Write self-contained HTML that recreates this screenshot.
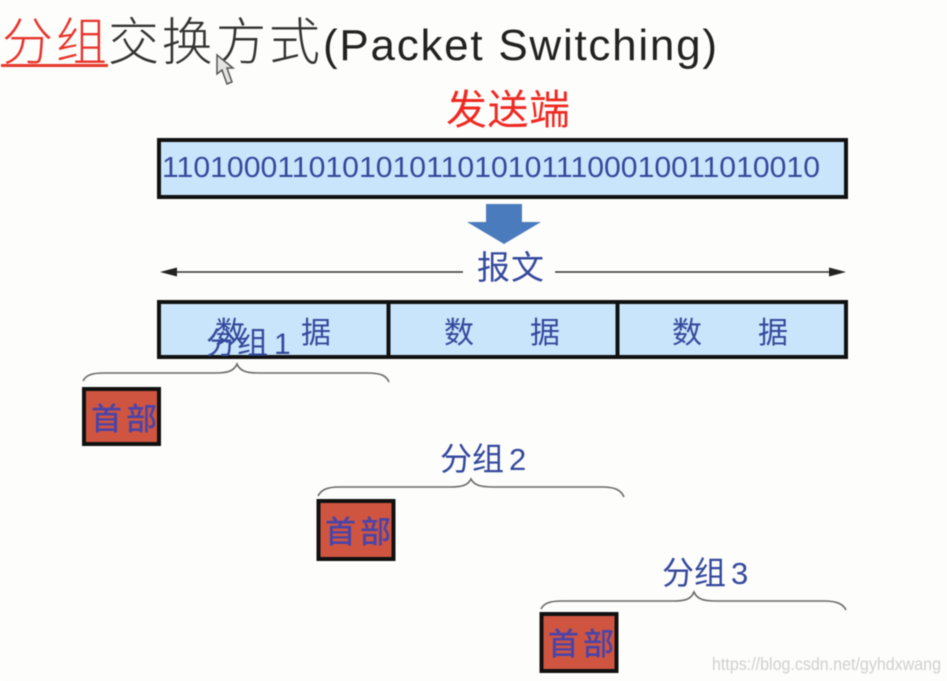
<!DOCTYPE html>
<html><head><meta charset="utf-8">
<style>
html,body{margin:0;padding:0;background:#fdfdfc;}
svg{display:block;filter:blur(.45px);}
text{font-family:"Liberation Sans","Noto Sans CJK SC",sans-serif;}
</style></head><body>
<svg width="947" height="681" viewBox="0 0 947 681" xmlns="http://www.w3.org/2000/svg">
<rect width="947" height="681" fill="#fdfdfc"/>
<text x="2" y="60" font-size="51" font-weight="300" fill="#e8332a" style="font-family:'Noto Sans CJK SC',sans-serif" textLength="105">分组</text>
<rect x="1" y="64" width="107" height="3" fill="#e53a2c"/>
<text x="108" y="60" font-size="51" fill="#333" style="font-family:'Noto Sans CJK SC',sans-serif" font-weight="300" textLength="212">交换方式</text>
<text x="323" y="60" font-size="44" fill="#222" textLength="394">(Packet Switching)</text>
<path d="M217 55 L217 74 L222 70 L227 84 L232 82 L227 68 L233 68 Z" fill="#e4e4e4" stroke="#555" stroke-width="1.5"/>
<text x="446" y="124" font-size="41" fill="#ee2a22" textLength="124">发送端</text>
<rect x="159" y="140" width="687" height="57" fill="#c9e5fb" stroke="#111" stroke-width="4"/>
<text x="162" y="177" font-size="28.5" fill="#34499c" textLength="658" lengthAdjust="spacingAndGlyphs">1101000110101010110101011100010011010010</text>
<path d="M486 204 H522 V222 H541 L504 244 L467 222 H486 Z" fill="#4a7bbd"/>
<line x1="170" y1="272" x2="463" y2="272" stroke="#333" stroke-width="1.5"/>
<path d="M160 272 L177 267.5 V276.5 Z" fill="#222"/>
<line x1="555" y1="272" x2="835" y2="272" stroke="#333" stroke-width="1.5"/>
<path d="M846 272 L829 267.5 V276.5 Z" fill="#222"/>
<text x="477" y="279" font-size="33" fill="#34499c" textLength="67">报文</text>
<rect x="159" y="302" width="687" height="55" fill="#c9e5fb" stroke="#111" stroke-width="4"/>
<line x1="388.500" y1="301" x2="388.500" y2="358" stroke="#111" stroke-width="4"/>
<line x1="617.500" y1="301" x2="617.500" y2="358" stroke="#111" stroke-width="4"/>
<g font-size="30" fill="#34499c">
<text x="215" y="343">数</text><text x="301" y="343">据</text>
<text x="444" y="343">数</text><text x="530" y="343">据</text>
<text x="672" y="343">数</text><text x="758" y="343">据</text>
</g>
<text x="206" y="354" font-size="31" fill="#34499c" textLength="62">分组</text>
<text x="274" y="354" font-size="30" fill="#34499c">1</text>
<text x="440" y="470" font-size="32" fill="#34499c" textLength="64">分组</text>
<text x="509" y="470" font-size="31" fill="#34499c">2</text>
<text x="662" y="584" font-size="32" fill="#34499c" textLength="64">分组</text>
<text x="731" y="584" font-size="31" fill="#34499c">3</text>
<g fill="none" stroke="#6a6a66" stroke-width="1.6">
<path d="M83 381 C86 375 92 373 104 373 H215 C228 373 234 371 237 364 C240 371 246 373 259 373 H367 C380 373 386 375 389 382"/>
<path d="M318 496 C321 490 327 487 339 487 H450 C463 487 468 485 471 479 C474 485 480 487 493 487 H602 C615 487 621 490 624 497"/>
<path d="M541 609 C544 603 550 601 562 601 H673 C686 601 691 599 694 592 C697 599 703 601 716 601 H824 C837 601 843 604 846 610"/>
</g>
<g fill="#cf5540" stroke="#111" stroke-width="4">
<rect x="84" y="389" width="75" height="55"/>
<rect x="318.500" y="501" width="75" height="58"/>
<rect x="541.500" y="614" width="75" height="57"/>
</g>
<g font-size="31" fill="#4a44a8" font-weight="500">
<text x="91" y="430" textLength="66">首部</text>
<text x="325" y="543" textLength="66">首部</text>
<text x="548" y="655" textLength="66">首部</text>
</g>
<text x="712" y="670" font-size="17.5" fill="#d0d0d0" textLength="229" lengthAdjust="spacingAndGlyphs">https://blog.csdn.net/gyhdxwang</text>
</svg>
</body></html>
